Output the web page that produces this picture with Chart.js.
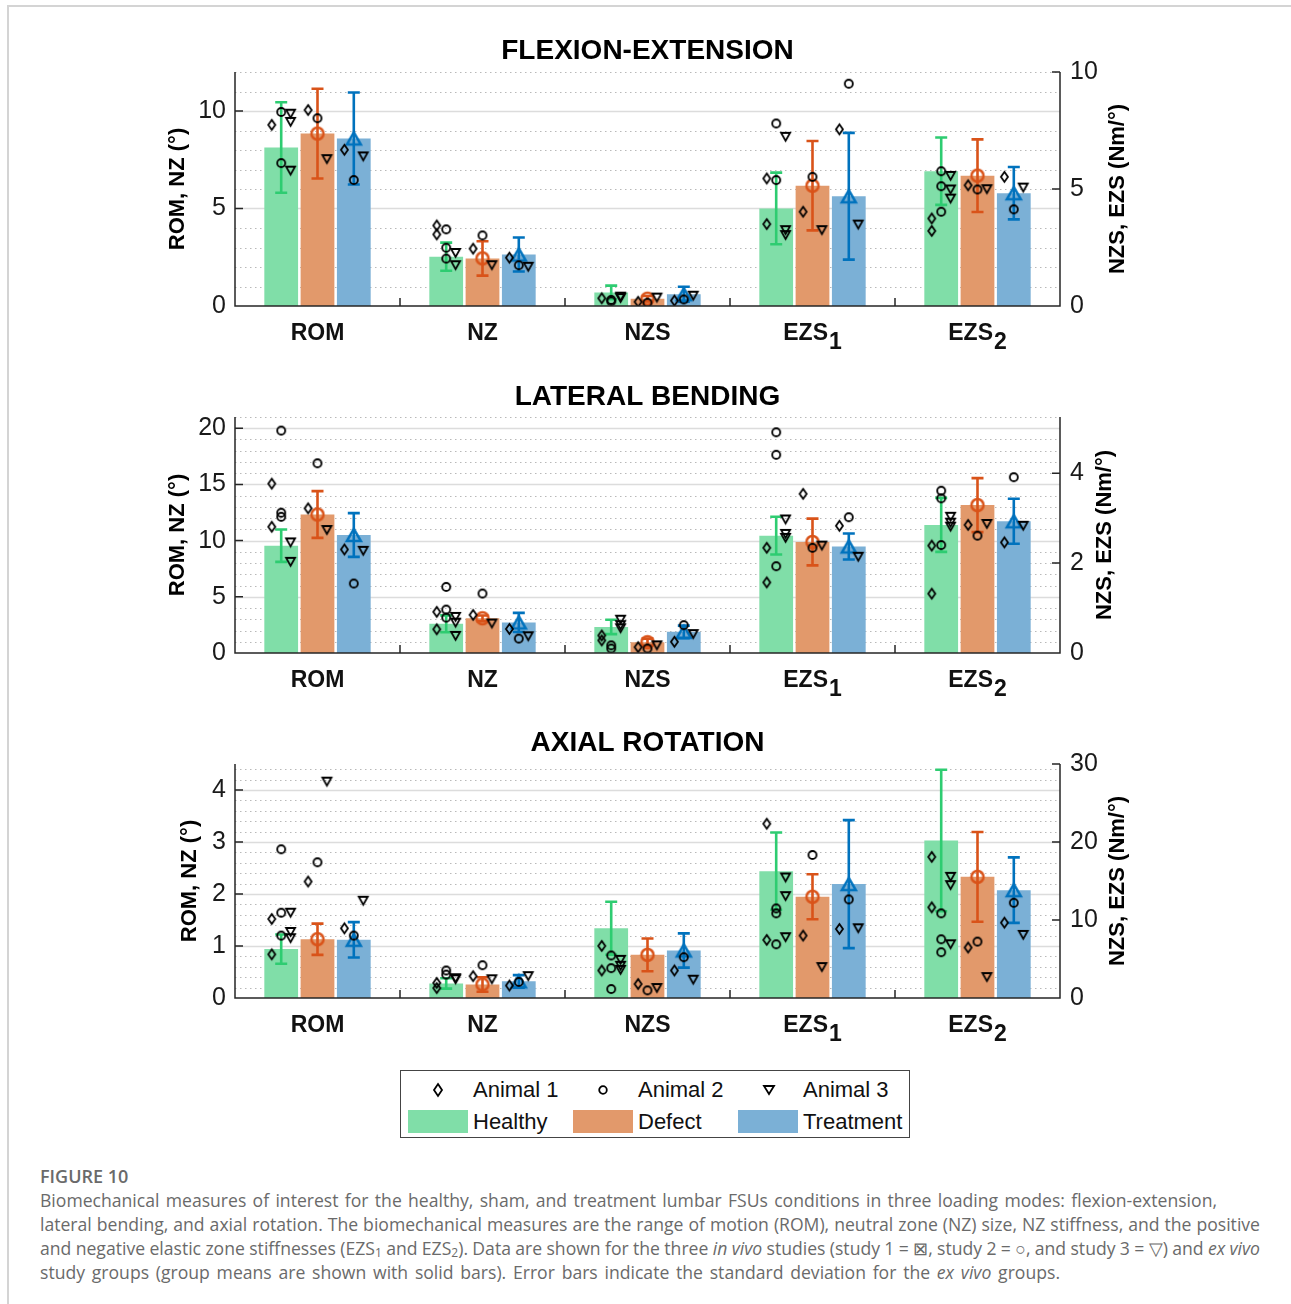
<!DOCTYPE html>
<html>
<head>
<meta charset="utf-8">
<script src="https://cdn.jsdelivr.net/npm/chart.js@4.4.1/dist/chart.umd.min.js"></script>
<style>
  body { margin:0; background:#fff; }
  #page { position:relative; width:1291px; height:1304px; overflow:hidden; background:#fff; font-family:'Liberation Sans', Arial, sans-serif; }
  .frame { position:absolute; left:7px; top:5px; right:0; bottom:0; border-top:2px solid #d4d4d4; border-left:2px solid #d4d4d4; }
  canvas { position:absolute; left:0; }
  .legend { position:absolute; left:400px; top:1070px; width:508px; height:66px; border:1.5px solid #444; background:#fff; }
  .legend span, .legend svg, .legend i { position:absolute; }
  .legend span { font-size:22px; line-height:24px; color:#111; white-space:nowrap; }
  .legend i { width:60px; height:23px; top:39px; }
  .cap { position:absolute; left:40px; top:1164px; font-family:'Open Sans', 'Noto Sans', sans-serif; color:#6a6a6a; white-space:nowrap; }
  .cap b { font-weight:600; font-size:18px; line-height:24px; display:block; }
  .cap p { margin:0; font-size:17.6px; line-height:24px; display:table; }
  .cap sub { font-size:12px; vertical-align:-2px; line-height:0; }
</style>
</head>
<body>
<div id="page">
  <div class="frame"></div>
  <canvas id="fe" width="1291" height="360" style="top:0"></canvas>
  <canvas id="lb" width="1291" height="346" style="top:360px"></canvas>
  <canvas id="ar" width="1291" height="346" style="top:706px"></canvas>

  <div class="legend">
    <svg style="left:31px;top:11px" width="12" height="16"><polygon points="6,2 10,8 6,14 2,8" fill="none" stroke="#000" stroke-width="1.8"/></svg>
    <span style="left:72px;top:7px">Animal 1</span>
    <svg style="left:196px;top:13px" width="12" height="12"><circle cx="6" cy="6" r="3.8" fill="none" stroke="#000" stroke-width="1.8"/></svg>
    <span style="left:237px;top:7px">Animal 2</span>
    <svg style="left:361px;top:13px" width="14" height="12"><polygon points="2,2 12,2 7,10" fill="none" stroke="#000" stroke-width="1.8"/></svg>
    <span style="left:402px;top:7px">Animal 3</span>
    <i style="left:7px;background:#80dea8"></i>
    <span style="left:72px;top:39px">Healthy</span>
    <i style="left:172px;background:#e2996b"></i>
    <span style="left:237px;top:39px">Defect</span>
    <i style="left:337px;background:#7bb0d6"></i>
    <span style="left:402px;top:39px">Treatment</span>
  </div>

  <div class="cap">
    <b>FIGURE 10</b>
    <p data-w="1177">Biomechanical measures of interest for the healthy, sham, and treatment lumbar FSUs conditions in three loading modes: flexion-extension,</p>
    <p data-w="1220">lateral bending, and axial rotation. The biomechanical measures are the range of motion (ROM), neutral zone (NZ) size, NZ stiffness, and the positive</p>
    <p data-w="1220">and negative elastic zone stiffnesses (EZS<sub>1</sub> and EZS<sub>2</sub>). Data are shown for the three <i>in vivo</i> studies (study 1 = ⊠, study 2 = ○, and study 3 = ▽) and <i>ex vivo</i></p>
    <p data-w="1020">study groups (group means are shown with solid bars). Error bars indicate the standard deviation for the <i>ex vivo</i> groups.</p>
  </div>
</div>

<script>
const categories = ['ROM', 'NZ', 'NZS', 'EZS1', 'EZS2'];
const groups = ['Healthy', 'Defect', 'Treatment'];
const fillCol = ['#80dea8', '#e2996b', '#7bb0d6'];
const lineCol = ['#2ecc71', '#d95319', '#0072bd'];

// ---- flexion-extension ----
const feMean = [[8.13, 2.53, 0.58, 4.17, 5.76], [8.84, 2.44, 0.31, 5.14, 5.57], [8.59, 2.64, 0.50, 4.69, 4.82]];
const feSd   = [[2.32, 0.72, 0.29, 1.53, 1.44], [2.30, 0.88, 0.12, 1.91, 1.55], [2.36, 0.87, 0.32, 2.71, 1.12]];
// per category: [healthy, defect, treatment]
const feA1 = [[[9.29], [10.05], [8.01]], [[4.13, 3.67], [2.94], [2.48]], [[0.33], [0.18], [0.23]], [[5.45, 3.50], [4.03], [7.55]], [[3.74, 3.21], [5.16], [5.52]]];
const feA2 = [[[9.95, 7.33], [9.63], [6.46]], [[3.93, 2.99, 2.43], [3.62], [2.09]], [[0.26, 0.20], [0.14], [0.28]], [[7.80, 5.38], [5.52], [9.50]], [[5.76, 5.12, 4.03], [4.98], [4.13]]];
const feA3 = [[[9.86, 9.44, 6.94], [7.53], [7.67]], [[2.72, 2.09], [2.09], [2.01]], [[0.40, 0.34], [0.36], [0.44]], [[7.23, 3.24, 3.03], [3.24], [3.48]], [[5.56, 4.98, 4.59], [4.99], [5.06]]];
const feLeftTicks = [0, 5, 10];
const feRightTicks = [0, 5, 10];

// ---- lateral bending ----
const lbMean = [[9.55, 2.60, 0.58, 2.61, 2.85], [12.32, 3.09, 0.24, 2.47, 3.29], [10.50, 2.72, 0.47, 2.37, 2.93]];
const lbSd   = [[1.44, 0.75, 0.16, 0.42, 0.60], [2.08, 0.25, 0.08, 0.52, 0.60], [1.95, 0.85, 0.14, 0.29, 0.50]];
const lbA1 = [[[15.07, 11.23], [12.87], [9.21]], [[3.66, 2.11], [3.39], [2.14]], [[0.39, 0.28], [0.13], [0.25]], [[2.34, 1.57], [3.54], [2.83]], [[2.39, 1.32], [2.85], [2.46]]];
const lbA2 = [[[19.79, 12.48, 12.12], [16.88], [6.18]], [[5.88, 3.86, 3.15], [5.29], [1.28]], [[0.17, 0.10], [0.10], [0.62]], [[4.91, 4.41, 1.93], [2.34], [3.02]], [[3.61, 3.44, 2.40], [2.61], [3.91]]];
const lbA3 = [[[9.84, 8.11], [10.94], [9.09]], [[3.21, 2.70, 1.52], [2.62], [1.49]], [[0.74, 0.62, 0.55], [0.17], [0.42]], [[2.97, 2.65, 2.56], [2.39], [2.14]], [[3.03, 2.90, 2.81], [2.87], [2.83]]];
const lbLeftTicks = [0, 5, 10, 15, 20];
const lbRightTicks = [0, 2, 4];

// ---- axial rotation ----
const arMean = [[0.94, 0.28, 8.94, 16.26, 20.20], [1.13, 0.26, 5.53, 12.98, 15.53], [1.12, 0.32, 6.09, 14.60, 13.83]];
const arSd   = [[0.28, 0.10, 3.40, 4.95, 9.07], [0.30, 0.14, 2.10, 2.88, 5.75], [0.34, 0.12, 2.20, 8.20, 4.20]];
const arA1 = [[[1.52, 0.84], [2.24], [1.34]], [[0.29, 0.19], [0.42], [0.24]], [[6.68, 3.53], [1.79], [3.53]], [[22.34, 7.45], [8.00], [8.85]], [[18.09, 11.62], [6.47], [9.66]]];
const arA2 = [[[2.86, 1.64, 1.20], [2.61], [1.20]], [[0.53, 0.45], [0.63], [0.31]], [[5.45, 3.83, 1.15], [0.98], [5.23]], [[11.49, 10.85, 6.89], [18.34], [12.64]], [[10.85, 7.53, 5.87], [7.23], [12.21]]];
const arA3 = [[[1.64, 1.27, 1.15], [4.16], [1.87]], [[0.38, 0.36], [0.36], [0.42]], [[4.89, 4.13, 3.60], [1.28], [2.34]], [[15.45, 13.06, 7.79], [3.96], [8.94]], [[15.53, 14.47, 6.89], [2.68], [8.09]]];
const arLeftTicks = [0, 1, 2, 3, 4];
const arRightTicks = [0, 10, 20, 30];

const slotOff = [-0.22, 0, 0.22];
const animOff = [-0.057, 0, 0.057];
const FONT = "'Liberation Sans', Arial, sans-serif";
const AXIS = '#262626';

function marker(kind, color, lw, w, h) {
  const pad = Math.ceil(lw) + 1;
  const c = document.createElement('canvas');
  c.width = w + 2 * pad; c.height = h + 2 * pad;
  const g = c.getContext('2d');
  const cx = c.width / 2, cy = c.height / 2;
  g.strokeStyle = color; g.lineWidth = lw;
  g.beginPath();
  if (kind === 'diamond') { g.moveTo(cx, pad); g.lineTo(pad + w, cy); g.lineTo(cx, pad + h); g.lineTo(pad, cy); g.closePath(); }
  if (kind === 'circle') g.arc(cx, cy, w / 2, 0, Math.PI * 2);
  if (kind === 'down') { g.moveTo(pad, pad); g.lineTo(pad + w, pad); g.lineTo(cx, pad + h); g.closePath(); }
  if (kind === 'up') { g.moveTo(cx, pad); g.lineTo(pad + w, pad + h); g.lineTo(pad, pad + h); g.closePath(); }
  g.stroke();
  return c;
}
const animalMarks = [marker('diamond', '#000', 1.8, 7, 10), marker('circle', '#000', 1.8, 8, 8), marker('down', '#000', 1.8, 9, 8)];
const meanMarks = [null, marker('circle', lineCol[1], 2.5, 12, 12), marker('up', lineCol[2], 2.5, 14, 12)];

// ROM and NZ use the left axis, the stiffnesses the right one
const onLeft = j => j < 2;

// grid, axes, error bars and labels
const decor = {
  id: 'decor',
  beforeDatasetsDraw(chart) {
    const p = chart.options.plugins.decor, a = chart.chartArea, y = chart.scales.y, ctx = chart.ctx;
    ctx.save();
    for (let v = p.minor; v <= y.max + 1e-6; v += p.minor) {
      const py = Math.round(y.getPixelForValue(v)) + 0.5;
      const major = p.leftTicks.some(t => Math.abs(t - v) < 1e-6);
      ctx.beginPath();
      ctx.setLineDash(major ? [] : [1.5, 3.5]);
      ctx.strokeStyle = major ? '#dcdcdc' : '#b9b9b9';
      ctx.lineWidth = major ? 1.5 : 1.2;
      ctx.moveTo(a.left, py); ctx.lineTo(a.right, py); ctx.stroke();
    }
    ctx.restore();
    chart.$ebDone = false;
  },
  beforeDatasetDraw(chart, args) {
    if (chart.$ebDone || args.meta.type !== 'scatter') return;
    chart.$ebDone = true;
    const p = chart.options.plugins.decor, ctx = chart.ctx;
    ctx.save();
    ctx.lineWidth = 2.6;
    groups.forEach((gName, g) => {
      categories.forEach((c, j) => {
        const left = onLeft(j);
        const bar = chart.getDatasetMeta(g * 2 + (left ? 0 : 1)).data[left ? j : j - 2];
        const s = chart.scales[left ? 'y' : 'y1'];
        const top = s.getPixelForValue(p.mean[g][j] + p.sd[g][j]);
        const bot = s.getPixelForValue(Math.max(0, p.mean[g][j] - p.sd[g][j]));
        ctx.strokeStyle = lineCol[g];
        ctx.beginPath();
        ctx.moveTo(bar.x, top); ctx.lineTo(bar.x, bot);
        ctx.moveTo(bar.x - 6, top); ctx.lineTo(bar.x + 6, top);
        ctx.moveTo(bar.x - 6, bot); ctx.lineTo(bar.x + 6, bot);
        ctx.stroke();
      });
    });
    ctx.restore();
  },
  afterDraw(chart) {
    const p = chart.options.plugins.decor, a = chart.chartArea, ctx = chart.ctx;
    const y = chart.scales.y, y1 = chart.scales.y1, x = chart.scales.xp;
    ctx.save();
    ctx.strokeStyle = AXIS; ctx.lineWidth = 1.5;
    ctx.beginPath();
    ctx.moveTo(a.left, a.top); ctx.lineTo(a.left, a.bottom); ctx.lineTo(a.right, a.bottom); ctx.lineTo(a.right, a.top);
    p.leftTicks.forEach(v => { const py = y.getPixelForValue(v); ctx.moveTo(a.left, py); ctx.lineTo(a.left + 8, py); });
    p.rightTicks.forEach(v => { const py = y1.getPixelForValue(v); ctx.moveTo(a.right, py); ctx.lineTo(a.right - 8, py); });
    for (let j = 1; j < categories.length; j++) {
      const px = x.getPixelForValue(j - 0.5);
      ctx.moveTo(px, a.bottom); ctx.lineTo(px, a.bottom - 8);
    }
    ctx.stroke();

    ctx.fillStyle = '#111';
    // category labels, EZS with a lowered index
    ctx.font = 'bold 23px ' + FONT;
    categories.forEach((c, j) => {
      const cx = x.getPixelForValue(j), by = a.bottom + 34;
      const main = c.startsWith('EZS') ? 'EZS' : c, sub = c.startsWith('EZS') ? c.slice(3) : '';
      const w1 = ctx.measureText(main).width, w2 = sub ? ctx.measureText(sub).width + 1 : 0;
      ctx.textAlign = 'left'; ctx.textBaseline = 'alphabetic';
      ctx.fillText(main, cx - (w1 + w2) / 2, by);
      if (sub) ctx.fillText(sub, cx - (w1 + w2) / 2 + w1 + 1, by + 9);
    });
    // panel title
    ctx.font = 'bold 28px ' + FONT;
    ctx.textAlign = 'center';
    ctx.fillStyle = '#000';
    ctx.fillText(p.title, (a.left + a.right) / 2, p.titleY + 10);
    // axis titles, both reading upward
    ctx.font = 'bold 22px ' + FONT;
    ctx.textBaseline = 'middle';
    [[p.leftTitleX, 'ROM, NZ (°)'], [p.rightTitleX, 'NZS, EZS (Nm/°)']].forEach(([tx, t]) => {
      ctx.save();
      ctx.translate(tx, (a.top + a.bottom) / 2);
      ctx.rotate(-Math.PI / 2);
      ctx.fillText(t, 0, 0);
      ctx.restore();
    });
    ctx.restore();
  }
};

function makePanel(id, p) {
  const datasets = [];
  // bars sit on a linear x axis: category j, slot offset per group
  groups.forEach((gName, g) => {
    ['y', 'y1'].forEach(ax => {
      const data = [];
      p.mean[g].forEach((v, j) => { if (onLeft(j) === (ax === 'y')) data.push({ x: j + slotOff[g], y: v }); });
      datasets.push({ type: 'bar', label: gName, xAxisID: 'xp', yAxisID: ax, order: 10, grouped: false,
        backgroundColor: fillCol[g], data });
    });
  });
  [1, 2].forEach(g => ['y', 'y1'].forEach(ax => {
    const data = [];
    p.mean[g].forEach((v, j) => { if (onLeft(j) === (ax === 'y')) data.push({ x: j + slotOff[g], y: v }); });
    datasets.push({ type: 'scatter', label: groups[g] + ' mean', xAxisID: 'xp', yAxisID: ax, order: 5, pointStyle: meanMarks[g], pointRadius: 7, data });
  }));
  p.pts.forEach((arr, a) => ['y', 'y1'].forEach(ax => {
    const data = [];
    arr.forEach((cat, j) => {
      if (onLeft(j) !== (ax === 'y')) return;
      cat.forEach((vals, g) => vals.forEach(v => data.push({ x: j + slotOff[g] + animOff[a], y: v })));
    });
    datasets.push({ type: 'scatter', label: 'Animal ' + (a + 1), xAxisID: 'xp', yAxisID: ax, order: 1, pointStyle: animalMarks[a], pointRadius: 5, data });
  }));

  const tickFont = { family: FONT, size: 25 };
  new Chart(document.getElementById(id), {
    type: 'bar',
    data: { datasets },
    options: {
      responsive: false, animation: false, events: [],
      layout: { padding: { top: p.plotTop, bottom: p.height - p.plotBottom, left: 0, right: 0 } },
      datasets: { bar: { barPercentage: 0.93, categoryPercentage: 1, borderWidth: 0 } },
      plugins: { legend: { display: false }, tooltip: { enabled: false }, decor: p },
      scales: {
        xp: { type: 'linear', min: -0.5, max: 4.5, offset: false, display: false, ticks: { stepSize: 0.5 } },
        y: { position: 'left', min: 0, max: p.leftMax, stacked: false,
          afterBuildTicks: s => { s.ticks = p.leftTicks.map(v => ({ value: v })); },
          afterFit: s => { s.width = 235; },
          grid: { display: false, drawTicks: false }, border: { display: false },
          ticks: { padding: 9, color: '#1a1a1a', font: tickFont } },
        y1: { position: 'right', min: 0, max: p.rightMax, stacked: false,
          afterBuildTicks: s => { s.ticks = p.rightTicks.map(v => ({ value: v })); },
          afterFit: s => { s.width = 231; },
          grid: { display: false, drawTicks: false }, border: { display: false },
          ticks: { padding: 10, color: '#1a1a1a', font: tickFont } }
      }
    },
    plugins: [decor]
  });
}

makePanel('fe', { title: 'FLEXION-EXTENSION', height: 360, plotTop: 72, plotBottom: 306, titleY: 49,
  leftMax: 12, rightMax: 10, minor: 1, leftTicks: feLeftTicks, rightTicks: feRightTicks,
  leftTitleX: 178, rightTitleX: 1118, mean: feMean, sd: feSd, pts: [feA1, feA2, feA3] });
makePanel('lb', { title: 'LATERAL BENDING', height: 346, plotTop: 57, plotBottom: 293, titleY: 35,
  leftMax: 21, rightMax: 5.25, minor: 1, leftTicks: lbLeftTicks, rightTicks: lbRightTicks,
  leftTitleX: 178, rightTitleX: 1105, mean: lbMean, sd: lbSd, pts: [lbA1, lbA2, lbA3] });
makePanel('ar', { title: 'AXIAL ROTATION', height: 346, plotTop: 58, plotBottom: 292, titleY: 35,
  leftMax: 4.5, rightMax: 30, minor: 0.2, leftTicks: arLeftTicks, rightTicks: arRightTicks,
  leftTitleX: 190, rightTitleX: 1118, mean: arMean, sd: arSd, pts: [arA1, arA2, arA3] });

// stretch caption lines to the widths of the original layout
document.querySelectorAll('.cap p').forEach(el => {
  const spaces = (el.textContent.match(/ /g) || []).length;
  const diff = +el.dataset.w - el.getBoundingClientRect().width;
  el.style.wordSpacing = (diff / spaces) + 'px';
});
</script>
</body>
</html>
